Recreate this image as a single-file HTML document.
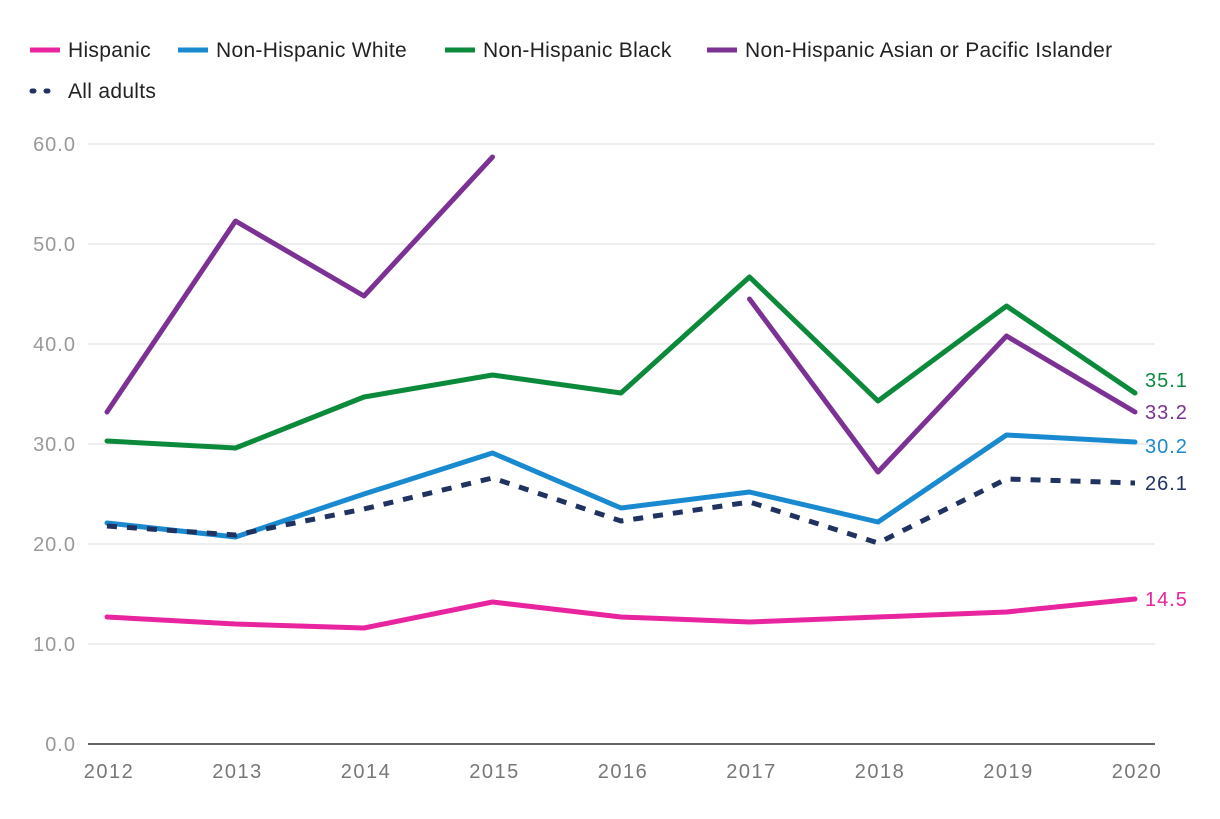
<!DOCTYPE html>
<html><head><meta charset="utf-8">
<style>
body{margin:0;background:#fff;font-family:"Liberation Sans",sans-serif;}
svg text{font-family:"Liberation Sans",sans-serif;}
</style></head>
<body>
<svg id="chart" width="1220" height="814" xmlns="http://www.w3.org/2000/svg">
<g id="legend"></g>
<g id="grid"></g>
<g id="yaxis"></g>
<g id="xaxis"></g>
<g id="series"></g>
<g id="labels"></g>
</svg>
<script>
const years = [2012,2013,2014,2015,2016,2017,2018,2019,2020];
const yTicks = [0,10,20,30,40,50,60];
const hispanic = [12.7,12.0,11.6,14.2,12.7,12.2,12.7,13.2,14.5];
const white = [22.1,20.7,25.0,29.1,23.6,25.2,22.2,30.9,30.2];
const black = [30.3,29.6,34.7,36.9,35.1,46.7,34.3,43.8,35.1];
const asian = [33.2,52.3,44.8,58.7,null,44.5,27.2,40.8,33.2];
const allAdults = [21.8,20.9,23.5,26.6,22.3,24.2,20.1,26.5,26.1];

const NS="http://www.w3.org/2000/svg";
const X0=107,X1=1135,Y0=744,Y1=144;
function xs(i){return X0+(X1-X0)*i/(years.length-1);}
function ys(v){return Y0-(Y0-Y1)*v/60;}
function mk(tag,attrs,parent){const e=document.createElementNS(NS,tag);for(const k in attrs)e.setAttribute(k,attrs[k]);parent.appendChild(e);return e;}

const grid=document.getElementById('grid'),yaxis=document.getElementById('yaxis'),xaxis=document.getElementById('xaxis');
yTicks.forEach(t=>{
  const l=mk('line',{x1:88,x2:1155,y1:ys(t),y2:ys(t),stroke:t===0?'#333':'#ddd','stroke-width':t===0?1.5:1},grid);
  
  
  const tx=mk('text',{x:76,y:ys(t)+7,'text-anchor':'end','font-size':20,'letter-spacing':1,fill:'#999'},yaxis);
  tx.textContent=t.toFixed(1);
  
  
});
years.forEach((y,i)=>{
  const tx=mk('text',{x:xs(i)+2,y:778,'text-anchor':'middle','font-size':20,'letter-spacing':1.5,fill:'#777'},xaxis);
  tx.textContent=y;
  
  
});

const seriesDefs=[
 {name:'hispanic',label:'Hispanic',data:hispanic,color:'#e8259f',dash:null,dy:0},
 {name:'non-hispanic-white',label:'Non-Hispanic White',data:white,color:'#1a8ad0',dash:null,dy:4},
 {name:'non-hispanic-black',label:'Non-Hispanic Black',data:black,color:'#0b8a3c',dash:null,dy:-13},
 {name:'non-hispanic-asian',label:'Non-Hispanic Asian or Pacific Islander',data:asian,color:'#7b3294',dash:null,dy:0},
 {name:'all-adults',label:'All adults',data:allAdults,color:'#1f3260',dash:'10 10',dy:0}
];
const sg=document.getElementById('series'),lg=document.getElementById('labels');
seriesDefs.forEach(s=>{
  let d='',pen=false;
  s.data.forEach((v,i)=>{
    if(v==null){pen=false;return;}
    d+=(pen?'L':'M')+xs(i)+' '+ys(v)+' ';pen=true;
  });
  const p=mk('path',{d:d,fill:'none',stroke:s.color,'stroke-width':5,'stroke-linejoin':'round','stroke-linecap':s.dash?'butt':'round'},sg);
  if(s.dash)p.setAttribute('stroke-dasharray',s.dash);
  
  
  const last=s.data[s.data.length-1];
  const t=mk('text',{x:1145,y:ys(last)+7+s.dy,'font-size':20,'letter-spacing':1,fill:s.color},lg);
  t.textContent=last.toFixed(1);
  
  
});

const legend=document.getElementById('legend');
const pos=[[30,57],[178,57],[445,57],[707,57],[30,98]];
seriesDefs.forEach((s,i)=>{
  const g=mk('g',{},legend);
  
  
  const [x,y]=pos[i];
  const l=mk('line',{x1:x,x2:x+30,y1:y-7,y2:y-7,stroke:s.color,'stroke-width':5,'stroke-linecap':s.dash?'round':'butt'},g);
  if(s.dash){l.setAttribute('stroke-dasharray','2 12');l.setAttribute('x1',x+2);}
  const t=mk('text',{x:x+38,y:y,'font-size':21,'letter-spacing':0.3,fill:'#222'},g);
  t.textContent=s.label;
});
</script>
</body></html>
